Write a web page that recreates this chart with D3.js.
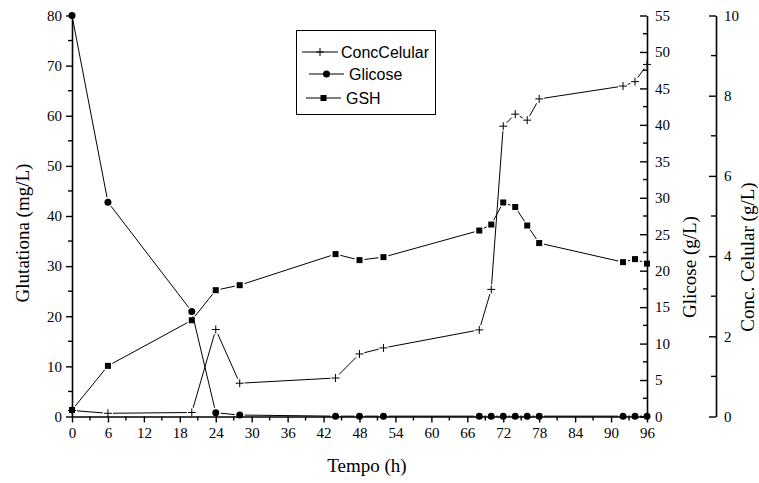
<!DOCTYPE html>
<html>
<head>
<meta charset="utf-8">
<script src="https://cdn.jsdelivr.net/npm/d3@7"></script>
<style>
  html, body { margin: 0; padding: 0; background: #fff; }
  svg { display: block; }
</style>
</head>
<body>
<svg id="chart" width="759" height="483"></svg>
<script>
// Sampling times (h)
const tempo = [0, 6, 20, 24, 28, 44, 48, 52, 68, 70, 72, 74, 76, 78, 92, 94, 96];
// Cell concentration (g/L), right-most axis
const concCelular = [0.15, 0.08, 0.1, 2.17, 0.83, 0.96, 1.56, 1.71, 2.16, 3.17, 7.24, 7.54, 7.39, 7.92, 8.24, 8.35, 8.78];
// Glucose (g/L), inner right axis
const glicose = [55, 29.4, 14.4, 0.52, 0.2, 0.05, 0.05, 0.05, 0.05, 0.05, 0.05, 0.05, 0.05, 0.05, 0.05, 0.05, 0.05];
// Glutathione GSH (mg/L), left axis
const gsh = [1.3, 10.1, 19.2, 25.2, 26.2, 32.4, 31.2, 31.8, 37.1, 38.3, 42.7, 41.8, 38.1, 34.6, 30.8, 31.4, 30.5];

const xTicks = d3.range(0, 97, 6);
const leftTicks = d3.range(0, 81, 10);
const glicTicks = d3.range(0, 56, 5);
const concTicks = d3.range(0, 11, 2);

const svg = d3.select("#chart");
const plot = { left: 72, right: 647, top: 15.5, bottom: 416.5 };
const concAxisX = 716;

const x = d3.scaleLinear().domain([0, 96]).range([plot.left, plot.right]);
const yLeft = d3.scaleLinear().domain([0, 80]).range([plot.bottom, plot.top]);
const yGlic = d3.scaleLinear().domain([0, 55]).range([plot.bottom, plot.top]);
const yConc = d3.scaleLinear().domain([0, 10]).range([plot.bottom, plot.top]);

const serif = "'Liberation Serif', 'Times New Roman', serif";
const sans = "'Liberation Sans', Arial, sans-serif";

function styleAxis(g) {
  g.selectAll("path.domain").attr("stroke", "#000").attr("stroke-width", 1.6);
  g.selectAll(".tick line").attr("stroke", "#000").attr("stroke-width", 1.4);
  g.selectAll(".tick text").attr("font-family", serif).attr("font-size", 15).attr("fill", "#000");
}

// minor ticks
function minor(g, scale, values, orient, len) {
  values.forEach(v => {
    const p = scale(v);
    let l;
    if (orient === "left") l = [[-len, p], [0, p]];
    else if (orient === "bottom") l = [[p, 0], [p, len]];
    else l = [[-len, p], [0, p]];
    g.append("line")
      .attr("x1", l[0][0]).attr("y1", l[0][1]).attr("x2", l[1][0]).attr("y2", l[1][1])
      .attr("stroke", "#000").attr("stroke-width", 1.4);
  });
}

// Bottom axis
const gx = svg.append("g").attr("transform", `translate(0,${plot.bottom})`)
  .call(d3.axisBottom(x).tickValues(xTicks).tickSize(6).tickSizeOuter(0).tickPadding(5));
styleAxis(gx);
minor(gx, x, d3.range(3, 96, 6), "bottom", 4);

// Left axis
const gy = svg.append("g").attr("transform", `translate(${plot.left},0)`)
  .call(d3.axisLeft(yLeft).tickValues(leftTicks).tickSize(6).tickSizeOuter(0).tickPadding(4));
styleAxis(gy);
minor(gy, yLeft, d3.range(5, 80, 10), "left", 4);

// Glucose axis: ticks inward, labels outside
const gg = svg.append("g").attr("transform", `translate(${plot.right},0)`)
  .call(d3.axisRight(yGlic).tickValues(glicTicks).tickSize(0).tickSizeOuter(0).tickPadding(8));
styleAxis(gg);
gg.selectAll(".tick").append("line").attr("x1", -7).attr("x2", 0).attr("stroke", "#000").attr("stroke-width", 1.4);
minor(gg, yGlic, d3.range(2.5, 55, 5), "right", 4);

// Cell concentration axis
const gc = svg.append("g").attr("transform", `translate(${concAxisX},0)`)
  .call(d3.axisRight(yConc).tickValues(concTicks).tickSize(0).tickSizeOuter(0).tickPadding(8));
styleAxis(gc);
gc.selectAll(".tick").append("line").attr("x1", -7).attr("x2", 0).attr("stroke", "#000").attr("stroke-width", 1.4);
minor(gc, yConc, d3.range(1, 10, 2), "right", 5);

// Axis titles
svg.append("text").attr("x", 367).attr("y", 472).attr("text-anchor", "middle")
  .attr("font-family", serif).attr("font-size", 19).text("Tempo (h)");
svg.append("text").attr("transform", "translate(29,233) rotate(-90)").attr("text-anchor", "middle")
  .attr("font-family", serif).attr("font-size", 19).text("Glutationa (mg/L)");
svg.append("text").attr("transform", "translate(696,267) rotate(-90)").attr("text-anchor", "middle")
  .attr("font-family", serif).attr("font-size", 19).text("Glicose (g/L)");
svg.append("text").attr("transform", "translate(754,257) rotate(-90)").attr("text-anchor", "middle")
  .attr("font-family", serif).attr("font-size", 19).text("Conc. Celular (g/L)");

// Connecting lines with a small gap around each symbol
function gappedLine(pts, gap) {
  const g = svg.append("g");
  for (let i = 0; i < pts.length - 1; i++) {
    const [x1, y1] = pts[i], [x2, y2] = pts[i + 1];
    const dx = x2 - x1, dy = y2 - y1, L = Math.hypot(dx, dy);
    if (L <= 2 * gap) continue;
    const ux = dx / L, uy = dy / L;
    g.append("line")
      .attr("x1", x1 + ux * gap).attr("y1", y1 + uy * gap)
      .attr("x2", x2 - ux * gap).attr("y2", y2 - uy * gap)
      .attr("stroke", "#000").attr("stroke-width", 1);
  }
  return g;
}

const ptsConc = tempo.map((t, i) => [x(t), yConc(concCelular[i])]);
const ptsGlic = tempo.map((t, i) => [x(t), yGlic(glicose[i])]);
const ptsGsh = tempo.map((t, i) => [x(t), yLeft(gsh[i])]);

gappedLine(ptsConc, 5);
gappedLine(ptsGlic, 5);
gappedLine(ptsGsh, 5);

const crossPath = "M-4,0H4M0,-4V4";
svg.append("g").selectAll("path").data(ptsConc).join("path")
  .attr("transform", d => `translate(${d[0]},${d[1]})`)
  .attr("d", crossPath).attr("stroke", "#000").attr("stroke-width", 1).attr("fill", "none");
svg.append("g").selectAll("circle").data(ptsGlic).join("circle")
  .attr("cx", d => d[0]).attr("cy", d => d[1]).attr("r", 3.5).attr("fill", "#000");
svg.append("g").selectAll("rect").data(ptsGsh).join("rect")
  .attr("x", d => d[0] - 3).attr("y", d => d[1] - 3).attr("width", 6).attr("height", 6).attr("fill", "#000");

// Legend
const leg = svg.append("g");
leg.append("rect").attr("x", 296.5).attr("y", 30.5).attr("width", 139).attr("height", 84)
  .attr("fill", "#fff").attr("stroke", "#000").attr("stroke-width", 1);
const legendItems = [
  { name: "ConcCelular", y: 52, x1: 302, x2: 338, tx: 341, sym: "cross" },
  { name: "Glicose", y: 74, x1: 309, x2: 344, tx: 349, sym: "circle" },
  { name: "GSH", y: 98, x1: 306, x2: 341, tx: 346, sym: "square" }
];
legendItems.forEach(it => {
  leg.append("line").attr("x1", it.x1).attr("x2", it.x2).attr("y1", it.y).attr("y2", it.y)
    .attr("stroke", "#000").attr("stroke-width", 1);
  const cx = (it.x1 + it.x2) / 2;
  if (it.sym === "cross") leg.append("path").attr("transform", `translate(${cx},${it.y})`).attr("d", crossPath).attr("stroke", "#000");
  if (it.sym === "circle") leg.append("circle").attr("cx", cx).attr("cy", it.y).attr("r", 3.5).attr("fill", "#000");
  if (it.sym === "square") leg.append("rect").attr("x", cx - 3).attr("y", it.y - 3).attr("width", 6).attr("height", 6).attr("fill", "#000");
  leg.append("text").attr("x", it.tx).attr("y", it.y + 5.5).attr("font-family", sans).attr("font-size", 16)
    .text(it.name);
});
</script>
</body>
</html>
